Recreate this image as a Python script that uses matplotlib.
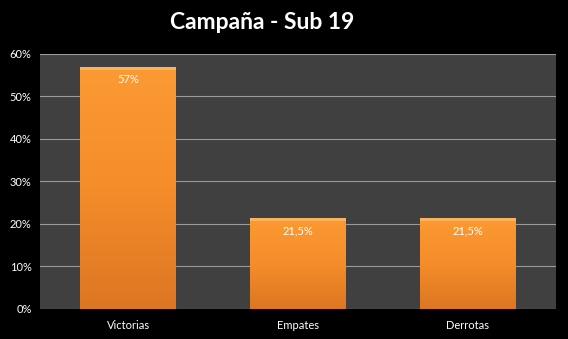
import matplotlib
matplotlib.use("Agg")
import matplotlib.pyplot as plt
import numpy as np
from matplotlib.colors import LinearSegmentedColormap

categories = ["Victorias", "Empates", "Derrotas"]
values = [57, 21.5, 21.5]
value_labels = ["57%", "21,5%", "21,5%"]
yticks = [0, 10, 20, 30, 40, 50, 60]

plt.rcParams['font.family'] = ['Lato', 'DejaVu Sans']

fig = plt.figure(figsize=(5.68, 3.39), dpi=100, facecolor='black')
ax = fig.add_axes([0.0704, 0.0885, 0.9086, 0.7525])
ax.set_facecolor('#404040')

x = np.arange(len(categories))
width = 0.565
ax.set_xlim(-0.52, len(categories) - 0.48)
ax.set_ylim(0, 60)

# orange vertical gradient, lighter at the top
cmap = LinearSegmentedColormap.from_list('bar', ['#dc7622', '#f58d2a', '#fb9a33'])
grad = np.linspace(0, 1, 256).reshape(-1, 1)
bars = ax.bar(x, values, width=width, color='none', zorder=3)
for b in bars:
    x0, y0 = b.get_x(), b.get_y()
    w, h = b.get_width(), b.get_height()
    im = ax.imshow(grad, extent=[x0, x0 + w, y0, y0 + h], origin='lower',
                   cmap=cmap, aspect='auto', zorder=3)
    im.set_clip_path(b)
    # thin highlight strip on top edge
    ax.bar(x0 + w / 2, 0.7, width=w, bottom=y0 + h - 0.7,
           color='#fdb35a', zorder=4)

for xi, v, lab in zip(x, values, value_labels):
    ax.text(xi, v - 3.1, lab, ha='center', va='center', color='white',
            fontsize=8, zorder=5)

ax.set_yticks(yticks)
ax.set_yticklabels([f"{t}%" for t in yticks])
ax.set_xticks(x)
ax.set_xticklabels(categories)
ax.tick_params(colors='white', labelsize=8, length=0)
ax.tick_params(axis='x', pad=8)
ax.tick_params(axis='y', pad=6)
ax.yaxis.grid(True, color='#9a9a9a', linewidth=0.8, zorder=0)
ax.set_axisbelow(True)
for side in ['top', 'right', 'left', 'bottom']:
    ax.spines[side].set_visible(False)

fig.text(0.462, 0.935, "Campaña - Sub 19", ha='center', va='center',
         color='white', fontsize=16.5, fontweight='bold')

fig.savefig('out.png', dpi=100, facecolor='black')
